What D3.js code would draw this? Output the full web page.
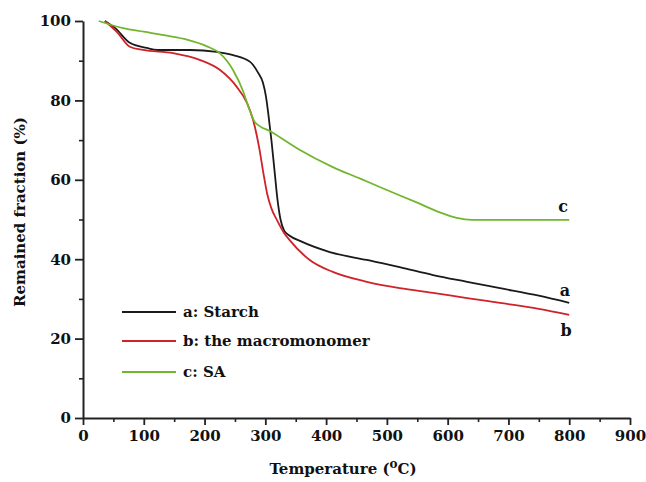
<!DOCTYPE html>
<html>
<head>
<meta charset="utf-8">
<script src="https://cdn.jsdelivr.net/npm/d3@7/dist/d3.min.js"></script>
<style>
  body { margin: 0; background: #fff; }
  text { font-family: "DejaVu Serif", serif; font-weight: bold; fill: #111; }
</style>
</head>
<body>
<svg id="chart" width="646" height="482"></svg>
<script>
// Series data (temperature in °C, remained fraction in %)
const starchT = [36, 53, 77, 105, 122, 176, 220, 247, 275, 288, 296, 301, 305, 310, 315, 320, 325, 331, 340, 357, 406, 467, 521, 576, 632, 686, 750, 800];
const starchV = [100, 98.2, 94.5, 93.2, 92.7, 92.7, 92.2, 91.4, 89.7, 87, 84.5, 81, 76.5, 70, 62.5, 55, 50, 47.2, 45.9, 44.6, 41.8, 39.8, 38, 36, 34.3, 32.7, 30.8, 29];

const macroT = [36, 56, 77, 99, 148, 192, 225, 253, 270, 280, 290, 297, 303, 310, 319, 330, 340, 373, 411, 467, 521, 576, 632, 686, 750, 800];
const macroV = [100, 97.2, 93.5, 92.7, 91.9, 90.2, 87.7, 83.4, 79.3, 75, 68, 61.5, 56.5, 52.8, 49.9, 46.8, 44.8, 39.8, 36.8, 34.3, 32.7, 31.5, 30.2, 29, 27.5, 26];

const saT = [26, 66, 100, 138, 171, 204, 225, 247, 263, 272, 283, 311, 357, 411, 456, 494, 549, 587, 615, 640, 800];
const saV = [100, 98.2, 97.3, 96.3, 95.3, 93.6, 91.9, 87.6, 82.5, 78.5, 74.5, 72, 67.5, 63.2, 60.3, 57.8, 54.3, 51.8, 50.4, 49.9, 49.9];

const seriesNames = ["a: Starch", "b: the macromonomer", "c: SA"];
const endLabels = ["a", "b", "c"];
const xTicks = [0, 100, 200, 300, 400, 500, 600, 700, 800, 900];
const yTicks = [0, 20, 40, 60, 80, 100];

const colors = ["#1a1a1a", "#cf2229", "#72b62f"];

const svg = d3.select("#chart");

const x = d3.scaleLinear().domain([0, 900]).range([83, 630]);
const y = d3.scaleLinear().domain([0, 100]).range([418, 21]);

// minor ticks first, so the major axis sits on top
svg.append("g")
  .attr("transform", "translate(0,418)")
  .call(d3.axisBottom(x).tickValues(d3.range(50, 900, 100)).tickSize(4).tickFormat(""))
  .call(g => g.select(".domain").remove())
  .call(g => g.selectAll("line").attr("stroke", "#222").attr("stroke-width", 1.6));

svg.append("g")
  .attr("transform", "translate(83,0)")
  .call(d3.axisLeft(y).tickValues(d3.range(10, 100, 20)).tickSize(4).tickFormat(""))
  .call(g => g.select(".domain").remove())
  .call(g => g.selectAll("line").attr("stroke", "#222").attr("stroke-width", 1.6));

const xAxis = svg.append("g")
  .attr("transform", "translate(0,418)")
  .call(d3.axisBottom(x).tickValues(xTicks).tickSize(7).tickSizeOuter(0).tickPadding(5));

const yAxis = svg.append("g")
  .attr("transform", "translate(83,0)")
  .call(d3.axisLeft(y).tickValues(yTicks).tickSize(8).tickSizeOuter(0).tickPadding(4));

[xAxis, yAxis].forEach(g => {
  g.select(".domain").attr("stroke", "#222").attr("stroke-width", 2);
  g.selectAll(".tick line").attr("stroke", "#222").attr("stroke-width", 1.8);
  g.selectAll(".tick text")
    .style("font-family", "'DejaVu Serif', serif")
    .style("font-weight", "bold")
    .style("font-size", "15px")
    .attr("fill", "#111");
});

// curves
const line = d3.line()
  .x(d => x(d[0]))
  .y(d => y(d[1]))
  .curve(d3.curveMonotoneX);

const series = [
  d3.zip(starchT, starchV),
  d3.zip(macroT, macroV),
  d3.zip(saT, saV)
];

series.forEach((pts, i) => {
  svg.append("path")
    .datum(pts)
    .attr("d", line)
    .attr("fill", "none")
    .attr("stroke", colors[i])
    .attr("stroke-width", 1.8);
});

// letters at the curve ends
const labelPos = [[565, 290], [566, 330], [563, 206]];
endLabels.forEach((t, i) => {
  svg.append("text")
    .attr("x", labelPos[i][0])
    .attr("y", labelPos[i][1])
    .attr("text-anchor", "middle")
    .attr("dominant-baseline", "central")
    .style("font-size", "16px")
    .text(t);
});

// legend
const legendY = [312, 341, 372];
seriesNames.forEach((name, i) => {
  svg.append("line")
    .attr("x1", 122).attr("x2", 176)
    .attr("y1", legendY[i]).attr("y2", legendY[i])
    .attr("stroke", colors[i])
    .attr("stroke-width", 1.8);
  svg.append("text")
    .attr("x", 183)
    .attr("y", legendY[i])
    .attr("dominant-baseline", "central")
    .style("font-size", "15px")
    .text(name);
});

// axis titles
const xTitle = svg.append("text")
  .attr("x", 343)
  .attr("y", 474)
  .attr("text-anchor", "middle")
  .style("font-size", "15px");
xTitle.append("tspan").text("Temperature (");
xTitle.append("tspan").attr("dy", -6).style("font-size", "12px").text("o");
xTitle.append("tspan").attr("dy", 6).text("C)");

svg.append("text")
  .attr("transform", "translate(25,212) rotate(-90)")
  .attr("text-anchor", "middle")
  .style("font-size", "15px")
  .text("Remained fraction (%)");
</script>
</body>
</html>
